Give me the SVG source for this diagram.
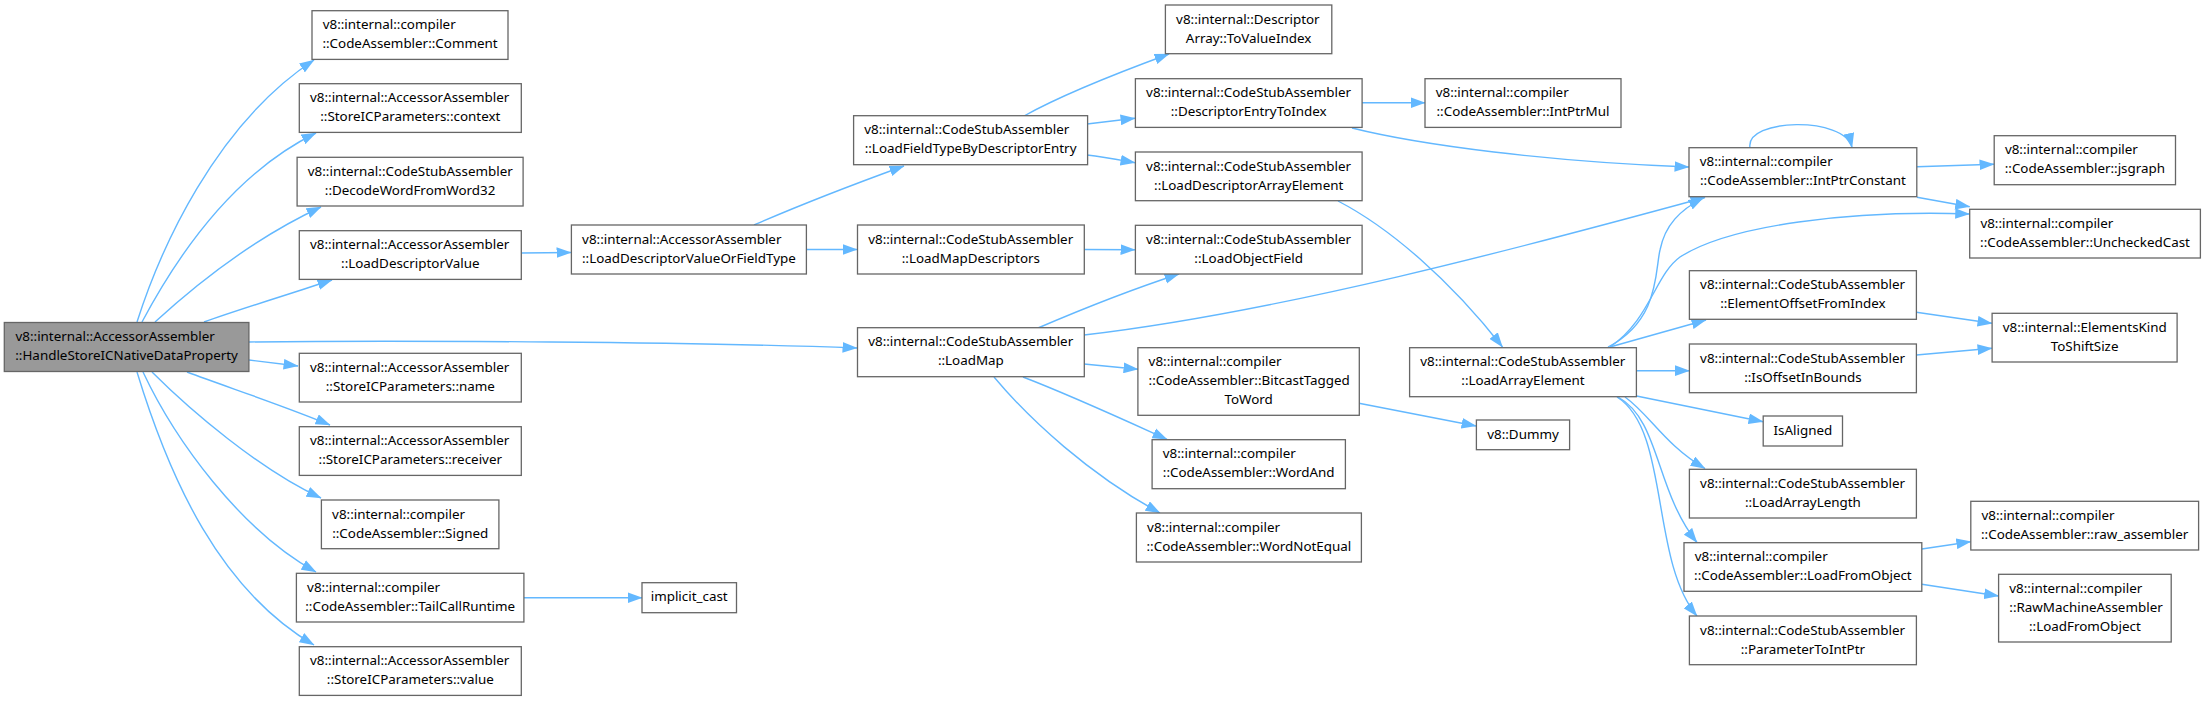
<svg xmlns="http://www.w3.org/2000/svg" width="2205" height="701" viewBox="0 0 2205 701">
<style>
.n rect{fill:#fff;stroke:#666;stroke-width:1.3}
#root rect{fill:#999}
text{font-family:"Noto Sans","Open Sans","DejaVu Sans",sans-serif;font-size:13.4px;fill:#000}
.m{text-anchor:middle}
.e path{fill:none;stroke:#63b8ff;stroke-width:1.4;marker-end:url(#a)}
</style>
<defs>
<marker id="a" markerUnits="userSpaceOnUse" markerWidth="15" markerHeight="11" viewBox="0 0 14 10" refX="13.5" refY="5" orient="auto">
<path d="M0,0 L14,5 L0,10 z" fill="#63b8ff"/>
</marker>
</defs>
<rect width="2205" height="701" fill="#fff"/>
<g class="e">
<path d="M137,322 C160,250 215,125 314,60"/>
<path d="M142,322 C175,260 230,175 316,133"/>
<path d="M155,322 C190,290 250,240 321,207"/>
<path d="M204,322 C240,309 290,294 332,280"/>
<path d="M249,342 C400,340 700,342 857,348"/>
<path d="M249,360 L298,366"/>
<path d="M187,372 C230,388 290,408 330,425"/>
<path d="M152,372 C190,410 260,470 321,498"/>
<path d="M143,372 C175,440 240,530 316,572"/>
<path d="M137,372 C170,480 220,590 314,645"/>
<path d="M521,253 L571,252.5"/>
<path d="M524,597.7 L642,597.7"/>
<path d="M754,225 C800,205 860,182 904,166"/>
<path d="M806,249.5 L857,249.5"/>
<path d="M1024,116 C1065,93 1120,72 1169,54"/>
<path d="M1087,124 C1105,122 1120,120 1135,118.3"/>
<path d="M1087,155 C1105,157 1120,160 1135,162.7"/>
<path d="M1084,249.5 L1135,249.7"/>
<path d="M1038,328 C1080,310 1130,290 1179,274"/>
<path d="M1084,335 C1280,312 1520,248 1705,197.5"/>
<path d="M1084,364 L1138,369.3"/>
<path d="M1023,377 C1070,395 1120,418 1167,439.3"/>
<path d="M994,377 C1030,420 1090,475 1160,513"/>
<path d="M1362,102.7 L1425,102.7"/>
<path d="M1352,128 C1420,145 1550,162 1689,167"/>
<path d="M1338,201 C1390,228 1450,280 1502.5,347"/>
<path d="M1359,403.3 L1476,426"/>
<path d="M1608,347 C1660,320 1655,270 1660,250 C1665,225 1680,210 1703,198"/>
<path d="M1610,347 C1650,320 1655,275 1680,257 C1730,225 1850,210 1969.7,214"/>
<path d="M1610,347 L1706,320"/>
<path d="M1636.5,370.7 L1689.4,370.7"/>
<path d="M1636.5,396 L1763,421.7"/>
<path d="M1625,397 C1650,415 1665,445 1705,468.5"/>
<path d="M1618,397 C1660,420 1655,490 1697,542.5"/>
<path d="M1617,397 C1670,430 1650,560 1697,616"/>
<path d="M1750,147.7 C1745,118 1845,116 1852,147.5"/>
<path d="M1917,166.7 L1994,164.3"/>
<path d="M1917,197.3 L1969.7,206.7"/>
<path d="M1916.4,312.3 L1992,323.3"/>
<path d="M1916.4,355 L1992,348.3"/>
<path d="M1921.8,549 L1970.8,541.7"/>
<path d="M1921.8,584.3 L1998.6,596"/>
</g>
<g id="root" class="n"><rect x="4.3" y="322.5" width="244.6" height="49"/><text x="15.5" y="341">v8::internal::AccessorAssembler</text><text class="m" x="126.6" y="360">::HandleStoreICNativeDataProperty</text></g>
<g id="comment" class="n"><rect x="312" y="10.7" width="196" height="48.7"/><text x="322.7" y="29.3">v8::internal::compiler</text><text class="m" x="410" y="48.3">::CodeAssembler::Comment</text></g>
<g id="context" class="n"><rect x="299.3" y="83.7" width="222" height="48.7"/><text x="310" y="102.3">v8::internal::AccessorAssembler</text><text class="m" x="410.3" y="121.3">::StoreICParameters::context</text></g>
<g id="decode" class="n"><rect x="297.1" y="157.3" width="226" height="48.7"/><text x="307.8" y="175.9">v8::internal::CodeStubAssembler</text><text class="m" x="410.1" y="194.9">::DecodeWordFromWord32</text></g>
<g id="loaddescriptorvalue" class="n"><rect x="299.3" y="230.7" width="222" height="48.7"/><text x="310" y="249.3">v8::internal::AccessorAssembler</text><text class="m" x="410.3" y="268.3">::LoadDescriptorValue</text></g>
<g id="name" class="n"><rect x="299.3" y="353.3" width="222" height="48.7"/><text x="310" y="371.9">v8::internal::AccessorAssembler</text><text class="m" x="410.3" y="390.9">::StoreICParameters::name</text></g>
<g id="receiver" class="n"><rect x="299.3" y="426.7" width="222" height="48.7"/><text x="310" y="445.3">v8::internal::AccessorAssembler</text><text class="m" x="410.3" y="464.3">::StoreICParameters::receiver</text></g>
<g id="signed" class="n"><rect x="321.4" y="500" width="177.5" height="48.7"/><text x="332.1" y="518.6">v8::internal::compiler</text><text class="m" x="410.2" y="537.6">::CodeAssembler::Signed</text></g>
<g id="tailcallruntime" class="n"><rect x="296.4" y="573.3" width="227.5" height="48.7"/><text x="307.1" y="591.9">v8::internal::compiler</text><text class="m" x="410.2" y="610.9">::CodeAssembler::TailCallRuntime</text></g>
<g id="value" class="n"><rect x="299.3" y="646.7" width="222" height="48.7"/><text x="310" y="665.3">v8::internal::AccessorAssembler</text><text class="m" x="410.3" y="684.3">::StoreICParameters::value</text></g>
<g id="ldvoft" class="n"><rect x="571.4" y="225" width="235" height="49"/><text x="582.1" y="243.6">v8::internal::AccessorAssembler</text><text class="m" x="688.9" y="262.6">::LoadDescriptorValueOrFieldType</text></g>
<g id="lftbde" class="n"><rect x="853.6" y="115.7" width="234" height="49"/><text x="864.3" y="134.3">v8::internal::CodeStubAssembler</text><text class="m" x="970.6" y="153.3">::LoadFieldTypeByDescriptorEntry</text></g>
<g id="loadmapdescriptors" class="n"><rect x="857.5" y="225" width="226.8" height="49"/><text x="868.2" y="243.6">v8::internal::CodeStubAssembler</text><text class="m" x="970.9" y="262.6">::LoadMapDescriptors</text></g>
<g id="loadmap" class="n"><rect x="857.5" y="327.7" width="226.8" height="49"/><text x="868.2" y="346.3">v8::internal::CodeStubAssembler</text><text class="m" x="970.9" y="365.3">::LoadMap</text></g>
<g id="implicit_cast" class="n"><rect x="642" y="582.7" width="94.5" height="30"/><text class="m" x="689.2" y="601.4">implicit_cast</text></g>
<g id="tovalueindex" class="n"><rect x="1165.4" y="5" width="166.4" height="48.7"/><text x="1176.1" y="23.6">v8::internal::Descriptor</text><text class="m" x="1248.6" y="42.6">Array::ToValueIndex</text></g>
<g id="descriptorentrytoindex" class="n"><rect x="1135.4" y="78.7" width="226.7" height="48.7"/><text x="1146.1" y="97.3">v8::internal::CodeStubAssembler</text><text class="m" x="1248.7" y="116.3">::DescriptorEntryToIndex</text></g>
<g id="intptrmul" class="n"><rect x="1425" y="78.7" width="196" height="48.7"/><text x="1435.7" y="97.3">v8::internal::compiler</text><text class="m" x="1523" y="116.3">::CodeAssembler::IntPtrMul</text></g>
<g id="loaddescriptorarrayelement" class="n"><rect x="1135.4" y="152" width="226.7" height="48.7"/><text x="1146.1" y="170.6">v8::internal::CodeStubAssembler</text><text class="m" x="1248.7" y="189.6">::LoadDescriptorArrayElement</text></g>
<g id="loadobjectfield" class="n"><rect x="1135.4" y="225.3" width="226.7" height="48.7"/><text x="1146.1" y="243.9">v8::internal::CodeStubAssembler</text><text class="m" x="1248.7" y="262.9">::LoadObjectField</text></g>
<g id="bitcasttaggedtoword" class="n"><rect x="1137.9" y="347.7" width="221.4" height="67.6"/><text x="1148.6" y="366.3">v8::internal::compiler</text><text x="1148.6" y="385.3">::CodeAssembler::BitcastTagged</text><text class="m" x="1248.6" y="404.3">ToWord</text></g>
<g id="loadarrayelement" class="n"><rect x="1409.6" y="347.7" width="226.8" height="49"/><text x="1420.3" y="366.3">v8::internal::CodeStubAssembler</text><text class="m" x="1523" y="385.3">::LoadArrayElement</text></g>
<g id="dummy" class="n"><rect x="1476.4" y="420" width="93.2" height="29.7"/><text class="m" x="1523" y="438.6">v8::Dummy</text></g>
<g id="wordand" class="n"><rect x="1152.1" y="439.7" width="193.3" height="49"/><text x="1162.8" y="458.3">v8::internal::compiler</text><text class="m" x="1248.7" y="477.3">::CodeAssembler::WordAnd</text></g>
<g id="wordnotequal" class="n"><rect x="1136.4" y="513" width="225" height="49"/><text x="1147.1" y="531.6">v8::internal::compiler</text><text class="m" x="1248.9" y="550.6">::CodeAssembler::WordNotEqual</text></g>
<g id="intptrconstant" class="n"><rect x="1689" y="147.7" width="227.8" height="49"/><text x="1699.7" y="166.3">v8::internal::compiler</text><text class="m" x="1802.9" y="185.3">::CodeAssembler::IntPtrConstant</text></g>
<g id="jsgraph" class="n"><rect x="1994.2" y="135.7" width="181.3" height="49"/><text x="2004.9" y="154.3">v8::internal::compiler</text><text class="m" x="2084.9" y="173.3">::CodeAssembler::jsgraph</text></g>
<g id="uncheckedcast" class="n"><rect x="1969.7" y="209.3" width="230.7" height="48.7"/><text x="1980.4" y="227.9">v8::internal::compiler</text><text class="m" x="2085" y="246.9">::CodeAssembler::UncheckedCast</text></g>
<g id="elementoffsetfromindex" class="n"><rect x="1689.4" y="270.7" width="227" height="48.6"/><text x="1700.1" y="289.3">v8::internal::CodeStubAssembler</text><text class="m" x="1802.9" y="308.3">::ElementOffsetFromIndex</text></g>
<g id="elementskindtoshiftsize" class="n"><rect x="1992.1" y="313.3" width="185" height="48.7"/><text x="2002.8" y="331.9">v8::internal::ElementsKind</text><text class="m" x="2084.6" y="350.9">ToShiftSize</text></g>
<g id="isoffsetinbounds" class="n"><rect x="1689.4" y="344" width="227" height="48.7"/><text x="1700.1" y="362.6">v8::internal::CodeStubAssembler</text><text class="m" x="1802.9" y="381.6">::IsOffsetInBounds</text></g>
<g id="isaligned" class="n"><rect x="1763.2" y="416" width="79.3" height="30"/><text class="m" x="1802.9" y="434.7">IsAligned</text></g>
<g id="loadarraylength" class="n"><rect x="1689.4" y="469.3" width="227" height="48.7"/><text x="1700.1" y="487.9">v8::internal::CodeStubAssembler</text><text class="m" x="1802.9" y="506.9">::LoadArrayLength</text></g>
<g id="loadfromobject" class="n"><rect x="1684" y="542.7" width="237.8" height="48.6"/><text x="1694.7" y="561.3">v8::internal::compiler</text><text class="m" x="1802.9" y="580.3">::CodeAssembler::LoadFromObject</text></g>
<g id="raw_assembler" class="n"><rect x="1970.8" y="501.3" width="227.8" height="48.7"/><text x="1981.5" y="519.9">v8::internal::compiler</text><text class="m" x="2084.7" y="538.9">::CodeAssembler::raw_assembler</text></g>
<g id="rawmachineloadfromobject" class="n"><rect x="1998.6" y="574.3" width="172.6" height="67.7"/><text x="2009.3" y="592.9">v8::internal::compiler</text><text x="2009.3" y="611.9">::RawMachineAssembler</text><text class="m" x="2084.9" y="630.9">::LoadFromObject</text></g>
<g id="parametertointptr" class="n"><rect x="1689.4" y="616" width="227" height="48.7"/><text x="1700.1" y="634.6">v8::internal::CodeStubAssembler</text><text class="m" x="1802.9" y="653.6">::ParameterToIntPtr</text></g>
</svg>
